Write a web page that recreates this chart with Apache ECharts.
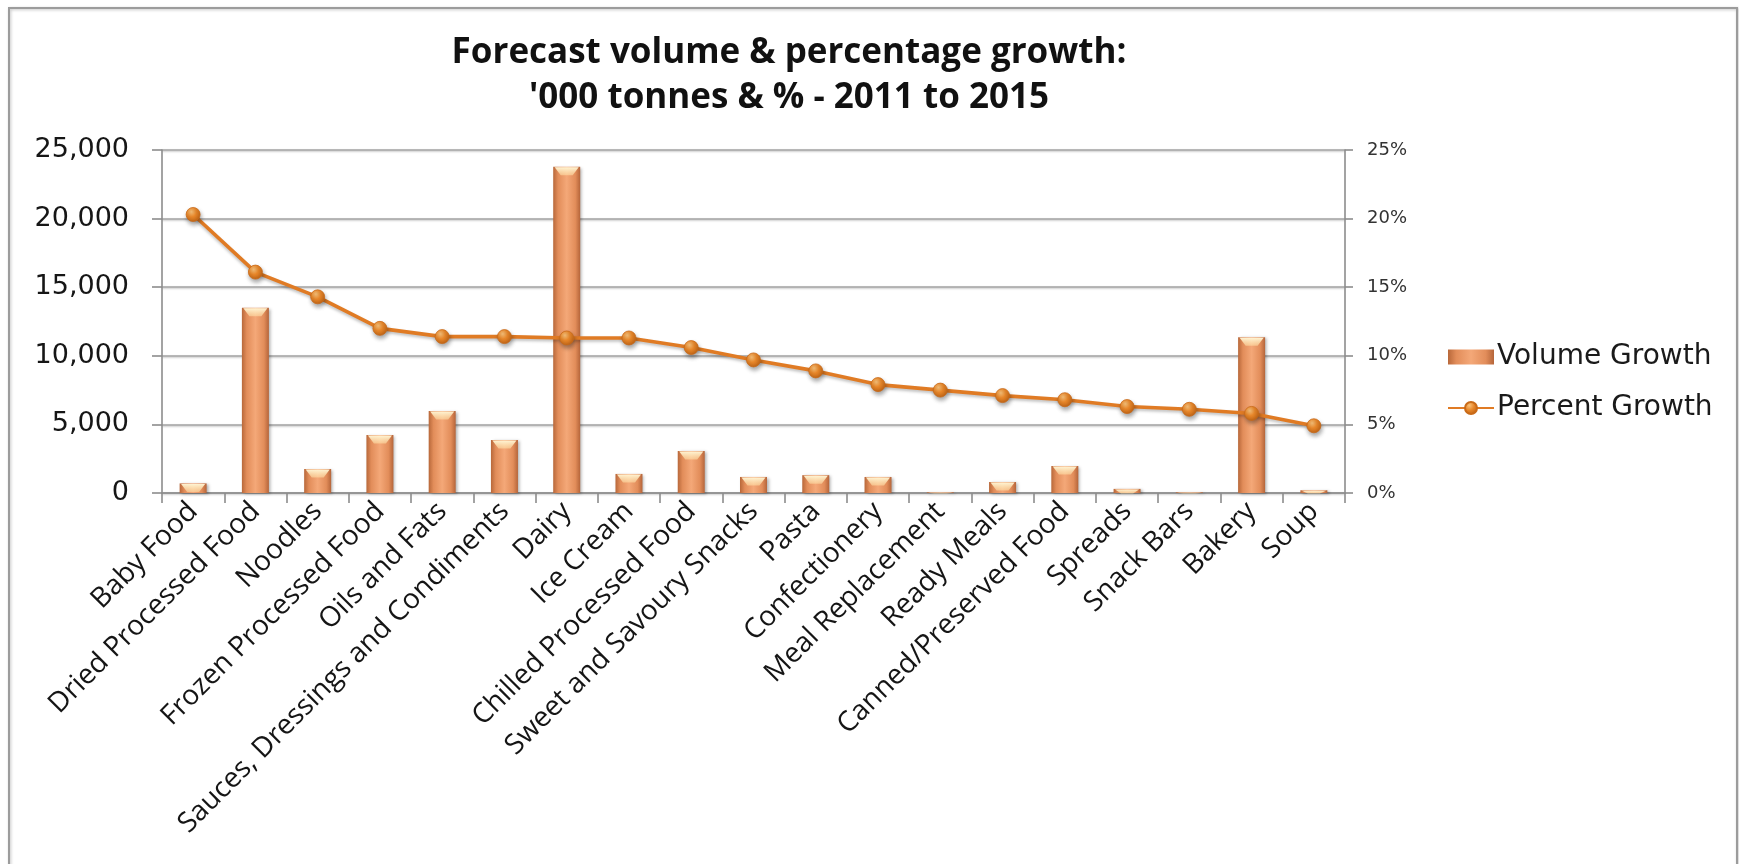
<!DOCTYPE html>
<html>
<head>
<meta charset="utf-8">
<script src="https://cdn.jsdelivr.net/npm/echarts@6/dist/echarts.min.js"></script>
<style>
  html, body { margin: 0; padding: 0; background: #ffffff; }
  #chart { width: 1739px; height: 864px; }
</style>
</head>
<body>
<div id="chart"></div>
<script>
// Food categories, forecast 2011-2015
const categories = [
  'Baby Food', 'Dried Processed Food', 'Noodles', 'Frozen Processed Food',
  'Oils and Fats', 'Sauces, Dressings and Condiments', 'Dairy', 'Ice Cream',
  'Chilled Processed Food', 'Sweet and Savoury Snacks', 'Pasta', 'Confectionery',
  'Meal Replacement', 'Ready Meals', 'Canned/Preserved Food', 'Spreads',
  'Snack Bars', 'Bakery', 'Soup'
];

// Volume growth, '000 tonnes
const volumeGrowth = [
  700, 13500, 1750, 4230, 5980, 3860, 23780, 1390, 3060, 1170,
  1300, 1170, 50, 800, 1970, 300, 50, 11350, 200
];

// Percentage growth, %
const percentGrowth = [
  20.3, 16.1, 14.3, 12.0, 11.4, 11.4, 11.3, 11.3, 10.6, 9.7,
  8.9, 7.9, 7.5, 7.1, 6.8, 6.3, 6.1, 5.8, 4.9
];

// Axis tick values
const volumeTicks = [0, 5000, 10000, 15000, 20000, 25000];
const percentTicks = [0, 5, 10, 15, 20, 25];

const titleLines = ['Forecast volume & percentage growth:', "'000 tonnes & % - 2011 to 2015"];

const BAR_W = 27;

const barFill = new echarts.graphic.LinearGradient(0, 0, 1, 0, [
  { offset: 0, color: '#b8683a' },
  { offset: 0.18, color: '#e28d5a' },
  { offset: 0.5, color: '#f4a878' },
  { offset: 0.82, color: '#e28d5a' },
  { offset: 1, color: '#b5653a' }
]);

const markerFill = new echarts.graphic.RadialGradient(0.38, 0.32, 0.75, [
  { offset: 0, color: '#f9c27a' },
  { offset: 0.45, color: '#e8872a' },
  { offset: 1, color: '#b85e12' }
]);

const gridLine = {
  color: '#a3a3a3',
  width: 1.6,
  shadowColor: 'rgba(0,0,0,0.25)',
  shadowBlur: 2,
  shadowOffsetY: 1
};

const chart = echarts.init(document.getElementById('chart'), null, { renderer: 'canvas' });

chart.setOption({
  animation: false,
  backgroundColor: '#ffffff',
  graphic: [
    {
      type: 'rect',
      shape: { x: 9, y: 8, width: 1728, height: 900 },
      style: {
        fill: 'none', stroke: '#9c9c9c', lineWidth: 2,
        shadowColor: 'rgba(0,0,0,0.25)', shadowBlur: 3, shadowOffsetX: 1, shadowOffsetY: 1
      },
      silent: true
    },
    {
      type: 'text',
      x: 789, y: 53,
      style: {
        text: titleLines[0],
        fontFamily: 'Open Sans', fontWeight: 'bold', fontSize: 35,
        fill: '#111111', align: 'center', verticalAlign: 'middle'
      }
    },
    {
      type: 'text',
      x: 789, y: 98,
      style: {
        text: titleLines[1],
        fontFamily: 'Open Sans', fontWeight: 'bold', fontSize: 35,
        fill: '#111111', align: 'center', verticalAlign: 'middle'
      }
    }
  ],
  grid: { left: 162, right: 394, top: 150, bottom: 371, containLabel: false },
  legend: {
    orient: 'vertical',
    left: 1447,
    top: 343,
    padding: 0,
    itemWidth: 46,
    itemHeight: 15,
    itemGap: 23,
    textStyle: { fontFamily: 'DejaVu Sans', fontSize: 28, color: '#1a1a1a', padding: [0, 0, 0, -2] },
    data: [
      { name: 'Volume Growth', icon: 'rect' },
      { name: 'Percent Growth' }
    ]
  },
  xAxis: {
    type: 'category',
    data: categories,
    boundaryGap: true,
    axisLine: { lineStyle: { color: '#8c8c8c', width: 1.6 } },
    axisTick: { show: true, length: 10, inside: false, lineStyle: { color: '#8c8c8c', width: 1.6 } },
    axisLabel: {
      interval: 0,
      rotate: 45,
      margin: 14,
      fontFamily: 'Open Sans',
      fontSize: 28,
      color: '#151515'
    }
  },
  yAxis: [
    {
      type: 'value',
      min: volumeTicks[0],
      max: volumeTicks[volumeTicks.length - 1],
      interval: volumeTicks[1] - volumeTicks[0],
      axisLine: { show: true, lineStyle: { color: '#8c8c8c', width: 1.6 } },
      axisTick: { show: true, length: 10, lineStyle: { color: '#8c8c8c', width: 1.6 } },
      splitLine: { show: true, lineStyle: gridLine },
      axisLabel: {
        margin: 33,
        fontFamily: 'DejaVu Sans',
        fontSize: 27,
        color: '#161616',
        formatter: v => v.toLocaleString('en-US')
      }
    },
    {
      type: 'value',
      min: percentTicks[0],
      max: percentTicks[percentTicks.length - 1],
      interval: percentTicks[1] - percentTicks[0],
      position: 'right',
      axisLine: { show: true, lineStyle: { color: '#8c8c8c', width: 1.6 } },
      axisTick: { show: true, length: 8, lineStyle: { color: '#8c8c8c', width: 1.6 } },
      splitLine: { show: false },
      axisLabel: {
        margin: 22,
        fontFamily: 'DejaVu Sans',
        fontSize: 18,
        color: '#333333',
        formatter: '{value}%'
      }
    }
  ],
  series: [
    {
      name: 'Volume Growth',
      type: 'bar',
      yAxisIndex: 0,
      barWidth: BAR_W,
      data: volumeGrowth,
      z: 2,
      itemStyle: {
        color: barFill,
        shadowColor: 'rgba(0,0,0,0.3)',
        shadowBlur: 3,
        shadowOffsetX: 2,
        shadowOffsetY: 1
      }
    },
    {
      // bevelled highlight on top of each bar
      name: 'Volume Cap',
      type: 'custom',
      yAxisIndex: 0,
      silent: true,
      z: 3,
      data: volumeGrowth.map((v, i) => [i, v]),
      renderItem: function (params, api) {
        const top = api.coord([api.value(0), api.value(1)]);
        const base = api.coord([api.value(0), 0]);
        const h = Math.min(8, Math.max(base[1] - top[1], 0));
        if (h <= 0.5) return null;
        const x0 = top[0] - BAR_W / 2 + 1.5;
        const x1 = top[0] + BAR_W / 2 - 1.5;
        const y = top[1] + 0.5;
        return {
          type: 'polygon',
          shape: {
            points: [[x0, y], [x1, y], [top[0] + 6, y + h], [top[0] - 6, y + h]]
          },
          style: {
            fill: new echarts.graphic.LinearGradient(0, 0, 0, 1, [
              { offset: 0, color: 'rgba(255,246,214,0.98)' },
              { offset: 1, color: 'rgba(255,226,170,0.55)' }
            ])
          }
        };
      }
    },
    {
      name: 'Percent Growth',
      type: 'line',
      yAxisIndex: 1,
      data: percentGrowth,
      z: 5,
      symbol: 'circle',
      symbolSize: 14,
      lineStyle: {
        color: '#e07b24',
        width: 3.6,
        shadowColor: 'rgba(0,0,0,0.25)',
        shadowBlur: 3,
        shadowOffsetY: 2
      },
      itemStyle: {
        color: markerFill,
        borderColor: '#c96a18',
        borderWidth: 0.8,
        shadowColor: 'rgba(0,0,0,0.35)',
        shadowBlur: 4,
        shadowOffsetX: 1,
        shadowOffsetY: 3
      }
    }
  ]
});
</script>
</body>
</html>
